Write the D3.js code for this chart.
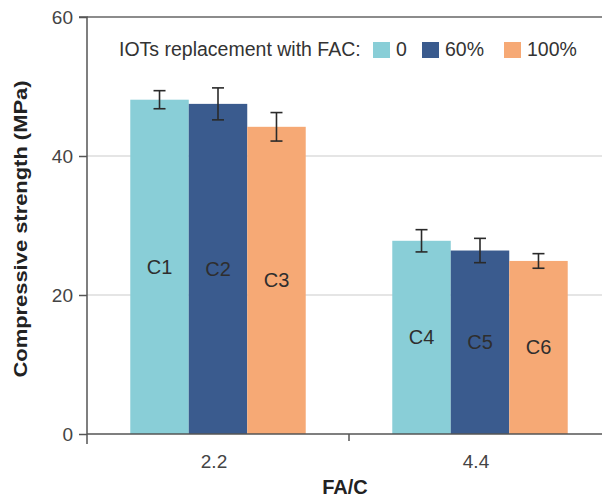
<!DOCTYPE html>
<html><head><meta charset="utf-8">
<script src="https://cdn.jsdelivr.net/npm/d3@7"></script>
<style>body{margin:0;background:#fff}svg{display:block;font-family:"Liberation Sans",Arial,sans-serif}</style>
</head><body><svg id="c" width="602" height="499"></svg>
<script>
const categories = ["2.2", "4.4"];
const seriesNames = ["0", "60%", "100%"];
const seriesColors = ["#89CED7", "#3A5B8E", "#F6A975"];
const barLabels = [["C1","C2","C3"],["C4","C5","C6"]];
const values = [[48.1, 47.5, 44.2],[27.8, 26.4, 24.9]];
const errors = [[1.3, 2.3, 2.05],[1.6, 1.75, 1.05]];
const yTicks = [0, 20, 40, 60];

const svg = d3.select("#c");
const m = {l:87, r:-9, t:17, b:65};
const W = 602, H = 499;
const x0 = d3.scaleBand().domain(categories).range([m.l, W - m.r]).paddingInner(0).paddingOuter(0);
const x1 = d3.scaleBand().domain(seriesNames).range([0, x0.bandwidth()]).paddingOuter(0.74);
const y = d3.scaleLinear().domain([0,60]).range([H - m.b, m.t]);

// gridlines
svg.append("g").selectAll("line").data([20,40]).join("line")
  .attr("x1", m.l).attr("x2", W).attr("y1", d=>y(d)).attr("y2", d=>y(d))
  .attr("stroke", "#dcdcdc").attr("stroke-width", 1.5);
// top frame line
svg.append("line").attr("x1", m.l).attr("x2", W).attr("y1", y(60)).attr("y2", y(60))
  .attr("stroke", "#666").attr("stroke-width", 1.5);

// bars
const g = svg.append("g").selectAll("g").data(categories).join("g")
  .attr("transform", d => `translate(${x0(d)},0)`);
g.each(function(cat, ci){
  const gg = d3.select(this);
  seriesNames.forEach((s, si) => {
    const v = values[ci][si], e = errors[ci][si];
    const bx = x1(s), bw = x1.bandwidth();
    gg.append("rect").attr("x", bx).attr("width", bw).attr("y", y(v)).attr("height", y(0) - y(v))
      .attr("fill", seriesColors[si]);
    const cx = bx + bw/2;
    gg.append("line").attr("x1", cx).attr("x2", cx).attr("y1", y(v+e)).attr("y2", y(v-e))
      .attr("stroke", "#2a2a2a").attr("stroke-width", 1.6);
    [v+e, v-e].forEach(t => gg.append("line").attr("x1", cx-6).attr("x2", cx+6).attr("y1", y(t)).attr("y2", y(t))
      .attr("stroke", "#2a2a2a").attr("stroke-width", 1.6));
    gg.append("text").attr("x", cx).attr("y", (y(v) + y(0))/2).attr("dy", "0.35em")
      .attr("text-anchor", "middle").attr("font-size", 20).attr("fill", "#2e2e2e").text(barLabels[ci][si]);
  });
});

// y axis
const ya = svg.append("g").attr("transform", `translate(${m.l},0)`)
  .call(d3.axisLeft(y).tickValues(yTicks).tickSize(8).tickPadding(6).tickFormat(d3.format("d")));
ya.select(".domain").attr("stroke", "#555").attr("stroke-width", 1.5).attr("d", `M-8,${y(60)}H0V${y(0)+10}`);
ya.selectAll(".tick line").attr("stroke", "#555").attr("stroke-width", 1.5);
ya.selectAll(".tick text").attr("font-size", 19).attr("fill", "#444").attr("font-family", "Liberation Sans, Arial, sans-serif");

// x axis
const xa = svg.append("g").attr("transform", `translate(0,${y(0)})`);
xa.append("line").attr("x1", m.l).attr("x2", W).attr("stroke", "#555").attr("stroke-width", 1.5);
xa.selectAll("line.t").data(categories.slice(1)).join("line").attr("class","t")
  .attr("x1", d=>x0(d)).attr("x2", d=>x0(d)).attr("y1", 0).attr("y2", 7).attr("stroke", "#555").attr("stroke-width", 1.5);
xa.selectAll("text").data(categories).join("text")
  .attr("x", d => x0(d) + x0.bandwidth()/2 - 4).attr("y", 34).attr("text-anchor", "middle")
  .attr("font-size", 19).attr("fill", "#444").text(d=>d);

// axis titles
svg.append("text").attr("transform", `translate(27,229) rotate(-90)`)
  .attr("text-anchor", "middle").attr("font-size", 19).attr("font-weight", "bold").attr("fill", "#222")
  .attr("textLength", 297).attr("lengthAdjust", "spacingAndGlyphs")
  .text("Compressive strength (MPa)");
svg.append("text").attr("x", 345).attr("y", 494).attr("text-anchor", "middle")
  .attr("font-size", 20).attr("font-weight", "bold").attr("fill", "#222").text("FA/C");

// legend
const lg = svg.append("g");
lg.append("text").attr("x", 119).attr("y", 56).attr("font-size", 19.5).attr("fill", "#333").text("IOTs replacement with FAC:");
const legX = [373, 422, 504];
seriesNames.forEach((s, i) => {
  lg.append("rect").attr("x", legX[i]).attr("y", 42).attr("width", 17).attr("height", 16).attr("fill", seriesColors[i]);
  lg.append("text").attr("x", legX[i] + 23).attr("y", 56).attr("font-size", 19.5).attr("fill", "#333").text(s);
});
</script></body></html>
